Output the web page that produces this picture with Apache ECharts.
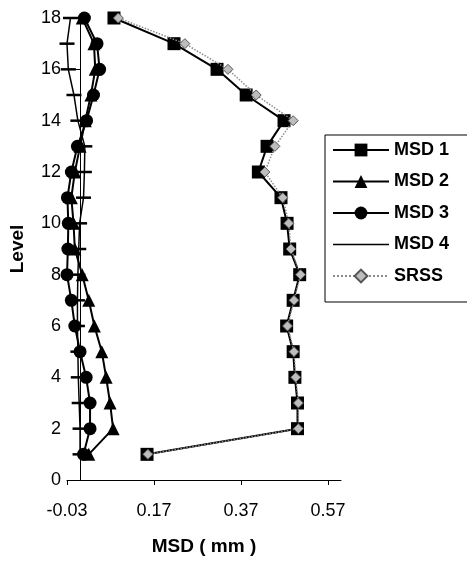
<!DOCTYPE html>
<html><head><meta charset="utf-8">
<script src="https://cdn.jsdelivr.net/npm/echarts@6/dist/echarts.min.js"></script>
<style>html,body{margin:0;padding:0;background:#fff}#c{width:467px;height:565px}</style>
</head><body><div id="c"></div>
<script>
const levels = [1, 2, 3, 4, 5, 6, 7, 8, 9, 10, 11, 12, 13, 14, 15, 16, 17, 18];
const msd1 = [0.154, 0.500, 0.500, 0.494, 0.490, 0.475, 0.490, 0.505, 0.482, 0.476, 0.462, 0.410, 0.430, 0.469, 0.382, 0.315, 0.216, 0.078];
const msd2 = [0.020, 0.076, 0.069, 0.060, 0.050, 0.033, 0.020, 0.005, -0.012, -0.015, -0.020, -0.012, 0.000, 0.012, 0.025, 0.035, 0.032, 0.005];
const msd3 = [0.008, 0.023, 0.023, 0.014, 0.000, -0.012, -0.020, -0.030, -0.028, -0.027, -0.029, -0.020, -0.006, 0.015, 0.031, 0.045, 0.039, 0.010];
const msd4 = [0.000, 0.000, -0.002, -0.004, -0.005, -0.006, -0.006, -0.005, -0.003, -0.001, 0.008, 0.010, 0.011, -0.005, -0.014, -0.027, -0.030, -0.022];
const srss = [0.156, 0.502, 0.502, 0.496, 0.492, 0.477, 0.492, 0.507, 0.485, 0.480, 0.466, 0.425, 0.448, 0.490, 0.405, 0.340, 0.241, 0.088];
const seriesNames = ['MSD 1', 'MSD 2', 'MSD 3', 'MSD 4', 'SRSS'];
const xTickLabels = ['-0.03', '0.17', '0.37', '0.57'];

const FONT = 'Liberation Sans, Arial, sans-serif';
function pts(vals) { return vals.map((v, i) => [v, levels[i]]); }

const chart = echarts.init(document.getElementById('c'), null, { renderer: 'canvas' });
chart.setOption({
  animation: false,
  backgroundColor: '#fff',
  grid: { left: 67, right: 126, top: 18, bottom: 85, containLabel: false, outerBoundsMode: 'none' },
  xAxis: {
    type: 'value', min: -0.03, max: 0.6, interval: 0.2,
    name: 'MSD ( mm )', nameLocation: 'middle', nameGap: 57,
    nameTextStyle: { fontFamily: FONT, fontSize: 19, fontWeight: 'bold', color: '#000' },
    axisLine: { show: true, lineStyle: { color: '#000', width: 1 } },
    axisTick: { show: true, inside: false, length: 5, lineStyle: { color: '#000' } },
    axisLabel: {
      fontFamily: FONT, fontSize: 18, color: '#000', margin: 22, showMaxLabel: false,
      formatter: function (v) {
        const s = v.toFixed(2);
        return xTickLabels.indexOf(s) >= 0 ? s : '';
      }
    },
    splitLine: { show: false }
  },
  yAxis: {
    type: 'value', min: 0, max: 18, interval: 2,
    name: 'Level', nameLocation: 'middle', nameGap: 40, nameRotate: 90,
    nameTextStyle: { fontFamily: FONT, fontSize: 19, fontWeight: 'bold', color: '#000' },
    axisLine: { show: true, onZero: true, lineStyle: { color: '#000', width: 1 } },
    axisTick: { show: true, inside: false, length: 5, lineStyle: { color: '#000' } },
    axisLabel: { fontFamily: FONT, fontSize: 18, color: '#000', margin: 6 },
    splitLine: { show: false }
  },
  legend: {
    orient: 'vertical', left: 325, top: 135,
    padding: [5, 20, 16, 7],
    itemWidth: 56, itemHeight: 16, itemGap: 11.5,
    borderColor: '#000', borderWidth: 1,
    textStyle: { fontFamily: FONT, fontSize: 18, fontWeight: 'bold', color: '#000', lineHeight: 20 },
    data: [
      { name: seriesNames[0] },
      { name: seriesNames[1] },
      { name: seriesNames[2] },
      { name: seriesNames[3], icon: 'path://M0,0h200v5h-200z' },
      { name: seriesNames[4] }
    ]
  },
  series: [
    { name: seriesNames[0], type: 'line', data: pts(msd1), symbol: 'rect', symbolSize: 13,
      itemStyle: { color: '#000' }, lineStyle: { color: '#000', width: 2 }, z: 2 },
    { name: seriesNames[1], type: 'line', data: pts(msd2), symbol: 'triangle', symbolSize: 13,
      itemStyle: { color: '#000' }, lineStyle: { color: '#000', width: 2 }, z: 3 },
    { name: seriesNames[2], type: 'line', data: pts(msd3), symbol: 'circle', symbolSize: 13,
      itemStyle: { color: '#000' }, lineStyle: { color: '#000', width: 2 }, z: 4 },
    { name: seriesNames[3], type: 'line', data: pts(msd4), symbol: 'rect', symbolSize: [15, 2.5],
      itemStyle: { color: '#000' }, lineStyle: { color: '#000', width: 1.5 }, z: 5 },
    { name: seriesNames[4], type: 'line', data: pts(srss), symbol: 'diamond', symbolSize: 10,
      itemStyle: { color: '#bdbdbd', borderColor: '#555', borderWidth: 1 },
      lineStyle: { color: '#8a8a8a', width: 1.5, type: 'dotted' }, z: 6 }
  ]
});
</script></body></html>
